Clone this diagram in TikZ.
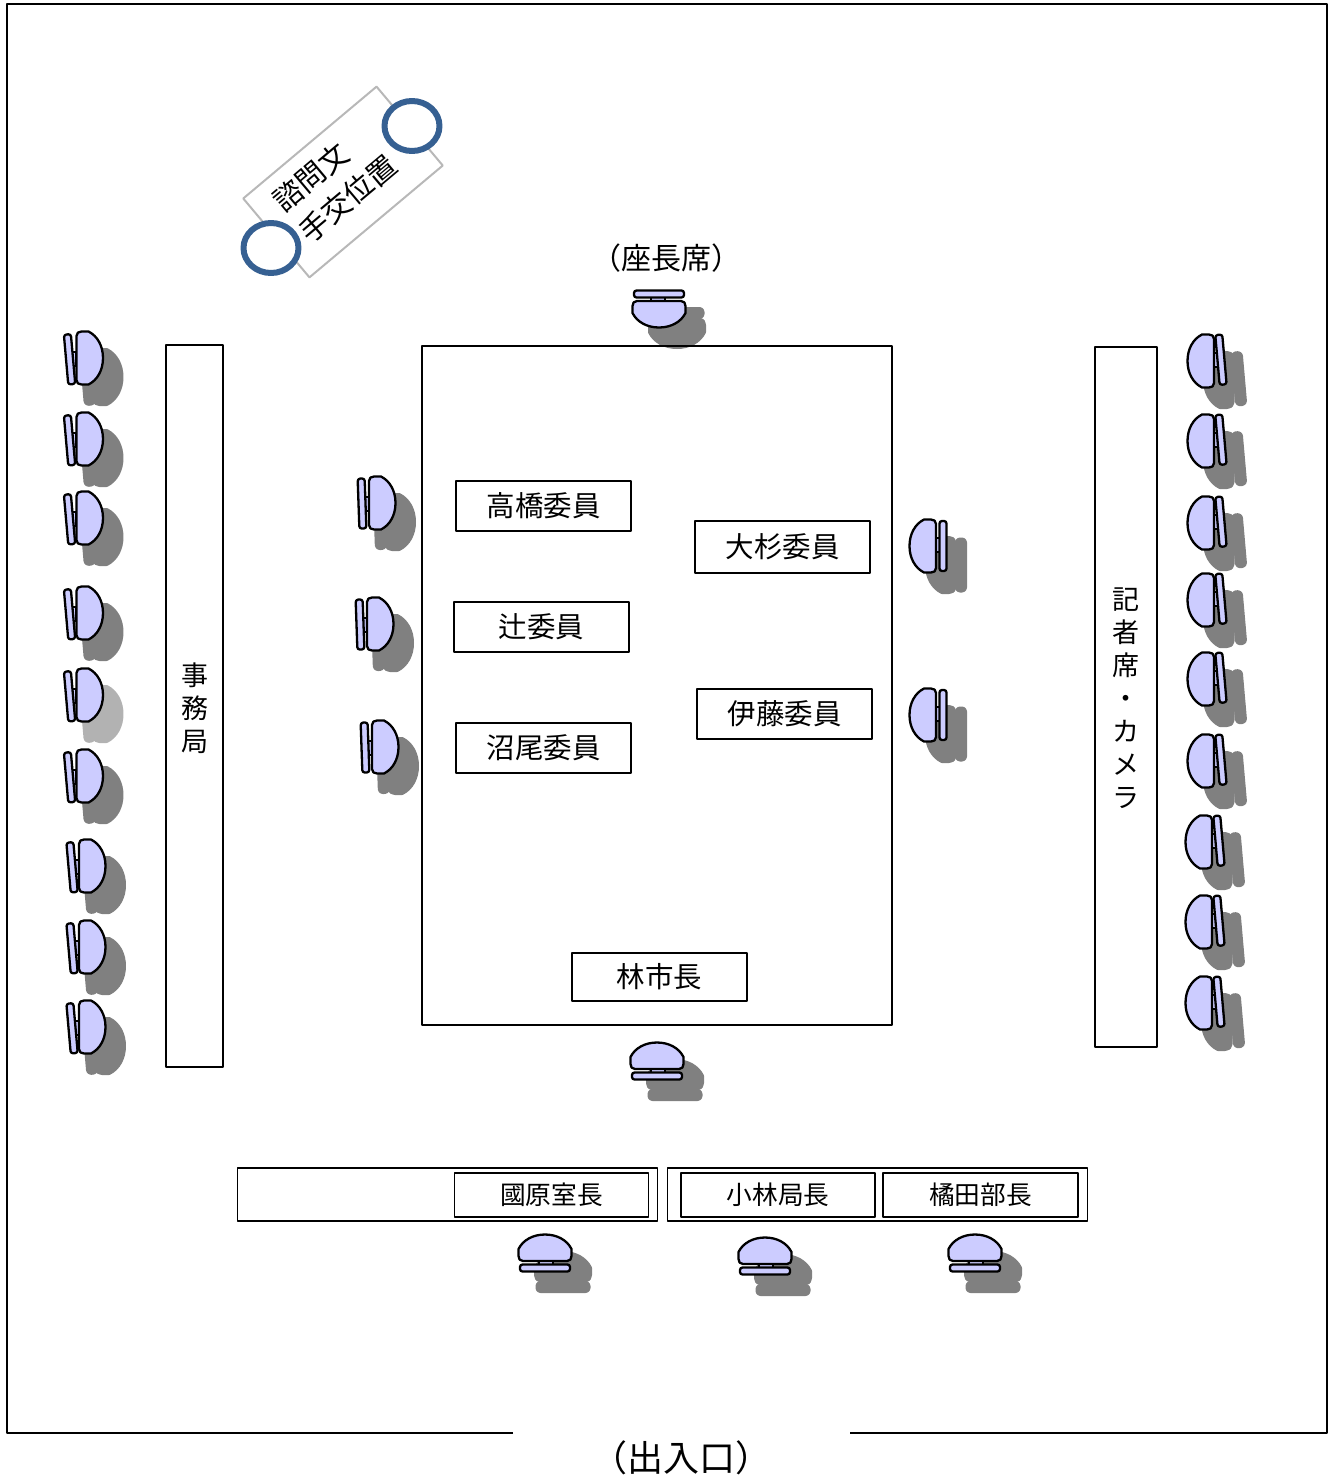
\documentclass[tikz,border=0pt]{standalone}
\usepackage{fontspec}
\usetikzlibrary{shapes.geometric,positioning}
\setmainfont{Noto Sans CJK JP}
\definecolor{chairblue}{RGB}{204,204,255}
\definecolor{ringblue}{RGB}{54,96,146}
\definecolor{shadowgray}{RGB}{128,128,128}
\definecolor{paleshadow}{RGB}{178,178,178}
\newcommand{\chairparts}[2]{
    \path[#1] (-12.5,-6) rectangle (-8,8);
    \path[#1, rotate=#2, rounded corners=2.5pt] (-18.5,-25) rectangle (-11.5,25);
    \path[#1] (-8,-22) .. controls (-8,-25) and (-6,-26.5) .. (-3,-26.5) -- (4,-26.5) .. controls (13,-22) and (18.5,-12) .. (18.5,0)
        .. controls (18.5,12) and (13,22) .. (4,26.5) -- (-3,26.5) .. controls (-6,26.5) and (-8,25) .. (-8,22) -- cycle;
}

\begin{document}
\begin{tikzpicture}[
        x=1pt, y=-1pt,
        line join=round,
        chairpart/.style={
            draw=black, fill=chairblue, line width=2.3pt
        },
        namebox/.style={
            rectangle, draw, line width=1.8pt, minimum width=175pt, minimum height=50pt,
            inner sep=0pt, font=\fontsize{28.5}{30}\selectfont
        },
        staffbox/.style={
            rectangle, draw, line width=1.8pt, minimum width=194pt, minimum height=44pt,
            inner sep=0pt, font=\fontsize{25.7}{28}\selectfont
        },
        sidedesk/.style={
            rectangle, draw, line width=1.8pt, inner sep=0pt, align=center,
            font=\fontsize{27}{33}\selectfont
        },
        backdesk/.style={
            rectangle, draw, line width=1.5pt, minimum width=420pt, minimum height=53pt, inner sep=0pt
        },
        ring/.style={
            ellipse, draw=ringblue, fill=white, line width=6pt, minimum width=55pt, minimum height=50pt, inner sep=0pt
        },
        pics/chair/.style n args={3}{
            code={
                \begin{scope}[shift={(18,19)}, rotate=#1]
                    \chairparts{draw=#2, fill=#2, line width=5pt}{#3}
                \end{scope}
                \begin{scope}[rotate=#1]
                    \chairparts{chairpart}{#3}
                \end{scope}
            }
        }
    ]
    \useasboundingbox (0,0) rectangle (1330,1475);

    % Room walls, open at the door
    \draw[line width=1.6pt] (513,1433) -- (7,1433) -- (7,4) -- (1327,4) -- (1327,1433) -- (850,1433);
    \node[font=\fontsize{36}{38}\selectfont] (door) at (681,1458) {（出入口）};

    % Chairs of the secretariat
    \pic at (84.5,358) {chair={0}{shadowgray}{5}};
    \pic at (84.5,439) {chair={0}{shadowgray}{5}};
    \pic at (84.5,518) {chair={0}{shadowgray}{5}};
    \pic at (84.5,613) {chair={0}{shadowgray}{5}};
    \pic at (84.5,695) {chair={0}{paleshadow}{5}};
    \pic at (84.5,776) {chair={0}{shadowgray}{5}};
    \pic at (87,866) {chair={0}{shadowgray}{5}};
    \pic at (87,947) {chair={0}{shadowgray}{5}};
    \pic at (87,1027) {chair={0}{shadowgray}{5}};

    % Chairs of the press
    \pic at (1206,361) {chair={180}{shadowgray}{5}};
    \pic at (1206,441) {chair={180}{shadowgray}{5}};
    \pic at (1206,523) {chair={180}{shadowgray}{5}};
    \pic at (1206,600) {chair={180}{shadowgray}{5}};
    \pic at (1206,679) {chair={180}{shadowgray}{5}};
    \pic at (1206,761) {chair={180}{shadowgray}{5}};
    \pic at (1204,842) {chair={180}{shadowgray}{5}};
    \pic at (1204,922) {chair={180}{shadowgray}{5}};
    \pic at (1204,1003) {chair={180}{shadowgray}{5}};

    % Chairs around the table
    \pic at (377,503) {chair={0}{shadowgray}{2}};
    \pic at (375,624) {chair={0}{shadowgray}{2}};
    \pic at (380,747) {chair={0}{shadowgray}{2}};
    \pic at (928,546) {chair={180}{shadowgray}{0}};
    \pic at (928,715) {chair={180}{shadowgray}{0}};
    \pic at (659,309) {chair={-90}{shadowgray}{0}};
    \pic at (657,1061) {chair={90}{shadowgray}{0}};

    % Chairs of the staff row
    \pic at (545,1253) {chair={90}{shadowgray}{0}};
    \pic at (765,1256) {chair={90}{shadowgray}{0}};
    \pic at (975,1253) {chair={90}{shadowgray}{0}};

    % Table and desks
    \node[rectangle, draw, line width=1.5pt, minimum width=470pt, minimum height=679pt, inner sep=0pt] (table) at (657,685.5) {};
    \node[sidedesk, minimum width=57pt, minimum height=722pt] (office) at (194.5,706) {};
    \node[align=center, inner sep=0pt, font=\fontsize{27}{33}\selectfont] (officelabel) at (194.5,708) {事\\務\\局};
    \node[sidedesk, minimum width=62pt, minimum height=700pt] (press) at (1126,697) {};
    \node[align=center, inner sep=0pt, font=\fontsize{27}{33}\selectfont] (presslabel) at (1126,698) {記\\者\\席\\・\\カ\\メ\\ラ};
    \node[backdesk] (leftdesk) at (447.5,1194.5) {};
    \node[backdesk] (rightdesk) at (877.5,1194.5) {};

    % Members
    \node[namebox] (takahashi) at (543.5,506) {高橋委員};
    \node[namebox, minimum height=52pt] (osugi) at (782.5,547) {大杉委員};
    \node[namebox] (tsuji) at (541.5,627) {辻委員};
    \node[namebox] (ito) at (784.5,714) {伊藤委員};
    \node[namebox] (numao) at (543.5,748) {沼尾委員};
    \node[namebox, minimum height=48pt] (mayor) at (659.5,977) {林市長};

    % Staff
    \node[staffbox] (kunihara) at (551.5,1195) {國原室長};
    \node[staffbox] (kobayashi) at (778,1195) {小林局長};
    \node[staffbox, minimum width=195pt] (kitsuda) at (980.5,1195) {橘田部長};

    \node[font=\fontsize{30}{32}\selectfont] (chairseat) at (666,258) {（座長席）};

    % Handover spot
    \node[rectangle, draw=black!28, line width=2pt, rotate=40, minimum width=174pt, minimum height=103pt, inner sep=0pt] (spot) at (343,182) {};
    \node[ring] (ringa) at (412,126) {};
    \node[ring] (ringb) at (271,248) {};
    \node[rotate=40, align=left, inner sep=0pt, font=\fontsize{29}{40}\selectfont] (spottext) at (335,183) {諮問文\\手交位置};

\end{tikzpicture}
\end{document}
